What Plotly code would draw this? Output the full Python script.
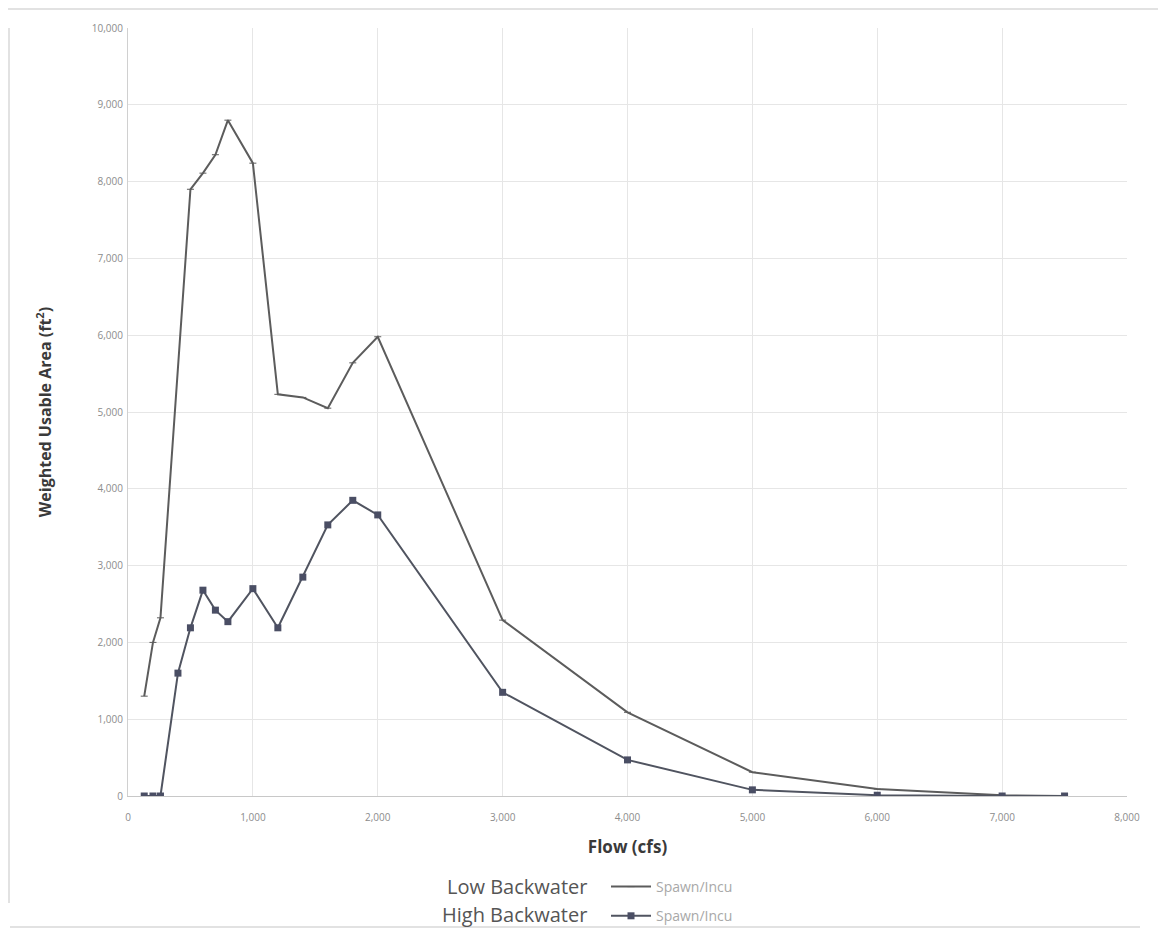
import plotly.graph_objects as go

# Data
low_flow = [130, 200, 260, 500, 600, 700, 800, 1000, 1200, 1400, 1600, 1800, 2000, 3000, 4000, 5000, 6000, 7000, 7500]
low_wua = [1300, 2000, 2320, 7900, 8110, 8350, 8800, 8240, 5230, 5190, 5050, 5640, 5980, 2290, 1090, 310, 90, 10, 0]

high_flow = [130, 200, 260, 400, 500, 600, 700, 800, 1000, 1200, 1400, 1600, 1800, 2000, 3000, 4000, 5000, 6000, 7000, 7500]
high_wua = [0, 0, 0, 1600, 2190, 2680, 2420, 2270, 2700, 2190, 2850, 3530, 3850, 3660, 1350, 470, 80, 10, 0, 0]

series_name = "Spawn/Incu"
group_labels = ["Low Backwater", "High Backwater"]

OFF = 8  # page body margin
W, H = 1166 - OFF, 930 - OFF
L, T = 128 - OFF, 28 - OFF
R = W - (1127 - OFF)
B = H - (796 - OFF)
pw, ph = W - L - R, H - T - B

def px(xs):
    # screen x -> paper x
    return (xs - OFF - L) / pw

def py(ys):
    # screen y -> paper y
    return (H - B - (ys - OFF)) / ph

fig = go.Figure()
fig.add_trace(go.Scatter(
    x=low_flow, y=low_wua, mode="lines+markers", name=series_name,
    line=dict(color="#5c5c5c", width=2),
    marker=dict(symbol="line-ew", size=5, color="#5c5c5c", line=dict(color="#5c5c5c", width=1)),
    legendgroup="low",
))
fig.add_trace(go.Scatter(
    x=high_flow, y=high_wua, mode="lines+markers", name=series_name,
    line=dict(color="#505460", width=2),
    marker=dict(symbol="square", size=7, color="#4a4e64"),
    legendgroup="high",
))

font_family = "Open Sans, Liberation Sans, sans-serif"

fig.update_layout(
    width=W, height=H,
    margin=dict(l=L, r=R, t=T, b=B, pad=0, autoexpand=False),
    paper_bgcolor="white", plot_bgcolor="white",
    font=dict(family=font_family, color="#8a8a8a", size=11),
    showlegend=True,
    legend=dict(
        x=px(606), y=py(871), xanchor="left", yanchor="top",
        font=dict(size=14, color="#a8a8a8"),
        traceorder="grouped", tracegroupgap=8,
        itemwidth=40, bgcolor="rgba(0,0,0,0)",
    ),
    xaxis=dict(
        range=[0, 8000], dtick=1000, tickformat=",d",
        showgrid=True, gridcolor="#e6e6e6", gridwidth=1,
        showline=True, linecolor="#c8c8c8", linewidth=1,
        zeroline=False, ticks="", ticklabelstandoff=12, automargin=False,
        tickfont=dict(size=10, color="#8c8c8c"),
        title=dict(text="<b>Flow (cfs)</b>", font=dict(size=17, color="#3a3a3a"), standoff=18),
    ),
    yaxis=dict(
        range=[0, 10000], dtick=1000, tickformat=",d",
        showgrid=True, gridcolor="#e6e6e6", gridwidth=1,
        showline=True, linecolor="#d0d0d0", linewidth=1,
        zeroline=False, ticks="", ticklabelstandoff=2, automargin=False,
        tickfont=dict(size=10, color="#8c8c8c"),
        title=dict(text="<b>Weighted Usable Area (ft<sup>2</sup>)</b>", font=dict(size=16, color="#3a3a3a"), standoff=36),
    ),
    shapes=[
        dict(type="line", xref="paper", yref="paper",
             x0=px(5), x1=px(1162), y0=py(9), y1=py(9),
             line=dict(color="#d9d9d9", width=1.5)),
        dict(type="line", xref="paper", yref="paper",
             x0=px(9), x1=px(9), y0=py(28), y1=py(903),
             line=dict(color="#d9d9d9", width=1.5)),
        dict(type="line", xref="paper", yref="paper",
             x0=px(10), x1=px(1140), y0=py(927), y1=py(927),
             line=dict(color="#d9d9d9", width=1.5)),
    ],
    annotations=[
        dict(text=group_labels[0], xref="paper", yref="paper", x=px(589), y=py(886),
             xanchor="right", yanchor="middle", showarrow=False,
             font=dict(size=20, color="#555555")),
        dict(text=group_labels[1], xref="paper", yref="paper", x=px(589), y=py(914),
             xanchor="right", yanchor="middle", showarrow=False,
             font=dict(size=20, color="#555555")),
    ],
)

fig.write_html("out.html")
